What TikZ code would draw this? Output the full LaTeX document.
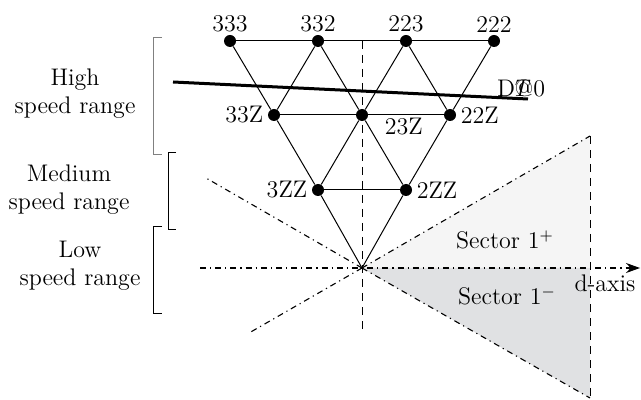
\documentclass[tikz,border=0pt]{standalone}
\usepackage{tikz}
\usetikzlibrary{positioning}
\usetikzlibrary{calc,arrows.meta}
\definecolor{sec-plus}{HTML}{F5F5F5}
\definecolor{sec-minus}{HTML}{E0E1E3}
\tikzset{vec/.style={circle,fill=black,inner sep=0pt,minimum size=6pt}}
\tikzset{dashdot/.style={line width=0.55pt,dash pattern=on 3pt off 2pt on 0.6pt off 2pt}}

\begin{document}
\begin{tikzpicture}[
    x=0.5pt, y=-0.5pt,
    font=\fontsize{12}{14}\selectfont,
    >={Stealth[length=7pt,width=5pt]}
  ]
  \useasboundingbox (0,0) rectangle (641,400);

  % Global Style Definitions
  \tikzset{
    latt/.style={line width=0.5pt},
    rangelabel/.style={align=center}
  }

  % Sector areas
  \coordinate (O) at (362,268);
  \coordinate (su) at (590,136);
  \coordinate (sm) at (590,268);
  \coordinate (sl) at (590,398);
  \fill[sec-plus] (O) -- (su) -- (sm) -- cycle;
  \fill[sec-minus] (O) -- (sm) -- (sl) -- cycle;

  % Voltage vectors, top row
  \node (n333) [vec, label={[inner sep=1pt]above:333}] at (230,41) {};
  \node (n332) [vec, label={[inner sep=1pt]above:332}] at (318,41) {};
  \node (n223) [vec, label={[inner sep=1pt]above:223}] at (406,41) {};
  \node (n222) [vec, label={[inner sep=1pt]above:222}] at (494,41) {};
  % Middle rows
  \node (n33Z) [vec, label={[inner sep=2pt]left:33Z}] at (274,115) {};
  \node (n23Z) [vec, label={[inner sep=0pt, xshift=9pt, yshift=1pt]below right:23Z}] at (362,115) {};
  \node (n22Z) [vec, label={[inner sep=2pt]right:22Z}] at (450,115) {};
  \node (n3ZZ) [vec, label={[inner sep=2pt]left:3ZZ}] at (318,190) {};
  \node (n2ZZ) [vec, label={[inner sep=2pt]right:2ZZ}] at (406,190) {};

  % Axes and sector borders
  \coordinate (qtop) at (362,41);
  \coordinate (qbot) at (362,334);
  \coordinate (dl) at (200,268);
  \coordinate (dr) at (640,268);
  \coordinate (ul) at (206,178);
  \coordinate (ll) at (249,333);
  \draw[latt, dashed, dash pattern=on 4pt off 3pt] (qtop) -- (qbot);
  \draw[dashdot, ->] (dl) -- (dr);
  \draw[dashdot] (O) -- (su);
  \draw[dashdot] (O) -- (sl);
  \draw[dashdot] (O) -- (ul);
  \draw[dashdot] (O) -- (ll);
  \draw[latt, dashed, dash pattern=on 4pt off 3pt] (su) -- (sl);

  % Lattice
  \draw[latt] (n333) -- (n332) -- (n223) -- (n222);
  \draw[latt] (n33Z) -- (n23Z) -- (n22Z);
  \draw[latt] (n3ZZ) -- (n2ZZ);
  \draw[latt] (n333) -- (n33Z) -- (n3ZZ) -- (O);
  \draw[latt] (n332) -- (n23Z) -- (n2ZZ);
  \draw[latt] (n223) -- (n22Z);
  \draw[latt] (n222) -- (n22Z) -- (n2ZZ) -- (O);
  \draw[latt] (n223) -- (n23Z) -- (n3ZZ);
  \draw[latt] (n332) -- (n33Z);

  % Boundary line
  \coordinate (bl) at (173,82);
  \coordinate (br) at (528,99);
  \draw[line width=1.5pt] (bl) -- (br);
  \node (dlab) at (521,88) {D\rlap{\kern-0.15em\textit{T}}@0};

  % Sector and axis labels
  \node (splus) at (505,240) {Sector 1$^+$};
  \node (sminus) at (507,296) {Sector 1$^-$};
  \node (daxis) at (605,283) {d-axis};

  % Speed ranges
  \node (high) [rangelabel] at (75,94) {High\\speed range};
  \node (medium) [rangelabel] at (69,190) {Medium\\speed range};
  \node (low) [rangelabel] at (80,266) {Low\\speed range};
  \draw[latt, gray] (162,38) -- (153,38) -- (153,155) -- (162,155);
  \draw[latt] (176,153) -- (168,153) -- (168,230) -- (176,230);
  \draw[latt] (162,227) -- (153,227) -- (153,313) -- (162,313);

\end{tikzpicture}
\end{document}
